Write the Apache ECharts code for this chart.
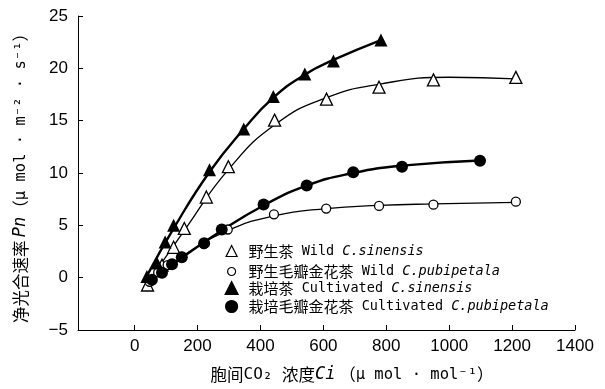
<!DOCTYPE html>
<html><head><meta charset="utf-8">
<script src="https://cdn.jsdelivr.net/npm/echarts@6/dist/echarts.min.js"></script>
<style>html,body{margin:0;padding:0;background:#fff}#c{width:605px;height:389px}</style>
</head><body><div id="c"></div>
<script>
// ---- data ----
const xTicks = [0, 200, 400, 600, 800, 1000, 1200, 1400];
const yTicks = [-5, 0, 5, 10, 15, 20, 25];
const seriesNames = ['野生茶 Wild C.sinensis', '野生毛瓣金花茶 Wild C.pubipetala', '栽培茶 Cultivated C.sinensis', '栽培毛瓣金花茶 Cultivated C.pubipetala'];
const legendCn = ['野生茶', '野生毛瓣金花茶', '栽培茶', '栽培毛瓣金花茶'];
const legendEn = ['Wild', 'Wild', 'Cultivated', 'Cultivated'];
const legendSp = ['C.sinensis', 'C.pubipetala', 'C.sinensis', 'C.pubipetala'];

const wildSinensis = [[41,-0.7],[87,1.2],[124,2.9],[158,4.7],[228,7.7],[298,10.6],[445,15.05],[610,17.06],[777,18.2],[950,18.9],[1212,19.14]];
const wildPubipetala = [[48,-0.4],[75,0.5],[105,1.2],[150,2.0],[220,3.2],[296,4.6],[443,6.05],[609,6.6],[777,6.85],[950,6.97],[1212,7.26]];
const cultSinensis = [[39,0.1],[71,1.4],[97,3.4],[124,5.0],[238,10.3],[347,14.2],[441,17.3],[541,19.46],[632,20.7],[783,22.7]];
const cultPubipetala = [[55,-0.2],[87,0.48],[119,1.28],[150,1.95],[221,3.3],[277,4.6],[410,7.0],[547,8.8],[695,10.07],[850,10.6],[1098,11.17]];

// fitted curves
const fitWildSin = [[40,-0.6],[160,4.6],[300,10.4],[450,14.7],[610,17.2],[780,18.5],[1000,19.15],[1212,19.0]];
const fitCultSin = [[36,0.0],[124,4.7],[238,10.1],[347,14.2],[441,17.2],[541,19.4],[632,20.8],[783,22.7]];
const fitWildPub = [[45,-0.4],[150,2.0],[296,4.5],[443,5.9],[609,6.6],[777,6.9],[950,7.05],[1212,7.2]];
const fitCultPub = [[50,-0.3],[150,1.9],[277,4.5],[410,6.9],[547,8.8],[695,10.0],[850,10.7],[1098,11.2]];

// ---- chart ----
const chart = echarts.init(document.getElementById('c'), null, {renderer: 'canvas'});
const latin = 'DejaVu Sans Mono';
const cjk = 'Noto Sans CJK SC';
function fit(data, w) {
  return {type: 'line', data: data, smooth: 0.5, showSymbol: false, symbol: 'none',
    lineStyle: {color: '#000', width: w}, silent: true, z: 2};
}
function pts(name, data, symbol, size, filled) {
  return {type: 'scatter', name: name, data: data, symbol: symbol, symbolSize: size,
    itemStyle: {color: filled ? '#000' : '#fff', borderColor: '#000', borderWidth: filled ? 0 : 1.3, opacity: 1}, z: filled ? 4 : 3};
}
const rowY = [249, 268, 287, 305];
const iconSize = [11, 8, 13, 12];
const iconX = 231, textX = 248;
const legends = seriesNames.map(function (n, i) {
  const s = iconSize[i];
  const left = iconX - s / 2;
  return {
    orient: 'vertical', left: left, top: rowY[i] - s / 2, itemWidth: s, itemHeight: s, padding: 0,
    data: [n], itemStyle: {borderWidth: 1.2},
    formatter: function () {
      return '{cn|' + legendCn[i] + '}{en| ' + legendEn[i] + ' }{it|' + legendSp[i] + '}';
    },
    textStyle: {padding: [0, 0, 0, textX - (left + s + 5)], rich: {
      cn: {fontFamily: cjk, fontSize: 15, color: '#000'},
      en: {fontFamily: latin, fontSize: 13.5, color: '#000'},
      it: {fontFamily: latin, fontSize: 13.5, fontStyle: 'italic', color: '#000'}
    }}
  };
});
const nameRich = {cn: {fontFamily: cjk, fontSize: 16.5, fill: '#000'}, la: {fontFamily: latin, fontSize: 15.5, fill: '#000'},
  sub: {fontFamily: latin, fontSize: 16, fill: '#000'},
  it: {fontFamily: latin, fontSize: 17, fontStyle: 'italic', fill: '#000'}};
const option = {
  animation: false,
  backgroundColor: '#fff',
  grid: {left: 78, right: 30, top: 16, bottom: 59, containLabel: false},
  xAxis: {type: 'value', min: -180, max: 1400,
    axisLine: {onZero: false, lineStyle: {color: '#000', width: 1}},
    axisTick: {inside: true, length: 5, lineStyle: {color: '#000'}, customValues: xTicks},
    axisLabel: {customValues: xTicks, formatter: function (v) { return String(v); }, color: '#000', fontSize: 17, fontFamily: 'Liberation Sans', margin: 8},
    splitLine: {show: false}},
  yAxis: {type: 'value', min: yTicks[0], max: yTicks[yTicks.length-1], interval: 5,
    axisLine: {show: true, onZero: false, lineStyle: {color: '#000', width: 1}},
    axisTick: {show: true, inside: true, length: 5, lineStyle: {color: '#000'}},
    axisLabel: {color: '#000', fontSize: 17, fontFamily: 'Liberation Sans', margin: 10, formatter: function (v) { return v < 0 ? '−' + (-v) : String(v); }},
    splitLine: {show: false}},
  legend: legends,
  series: [
    fit(fitWildSin, 1.3), fit(fitWildPub, 1.3), fit(fitCultSin, 2.4), fit(fitCultPub, 2.4),
    pts(seriesNames[0], wildSinensis, 'triangle', 12, false),
    pts(seriesNames[1], wildPubipetala, 'circle', 9, false),
    pts(seriesNames[2], cultSinensis, 'triangle', 13, true),
    pts(seriesNames[3], cultPubipetala, 'circle', 12, true)
  ],
  graphic: [
    {type: 'text', x: 352, y: 375, style: {
      text: '{cn|胞间}{sub|CO₂ }{cn|浓度}{it|Ci}{cn| （}{la|μ mol · mol⁻¹}{cn|）}',
      align: 'center', verticalAlign: 'middle', rich: nameRich}},
    {type: 'text', x: 21, y: 174, rotation: Math.PI / 2, style: {
      text: '{cn|净光合速率} {it|Pn}{cn|（}{la|μ mol · m⁻² · s⁻¹}{cn|）}',
      align: 'center', verticalAlign: 'middle', rich: nameRich}}
  ]
};
chart.setOption(option);
</script></body></html>
